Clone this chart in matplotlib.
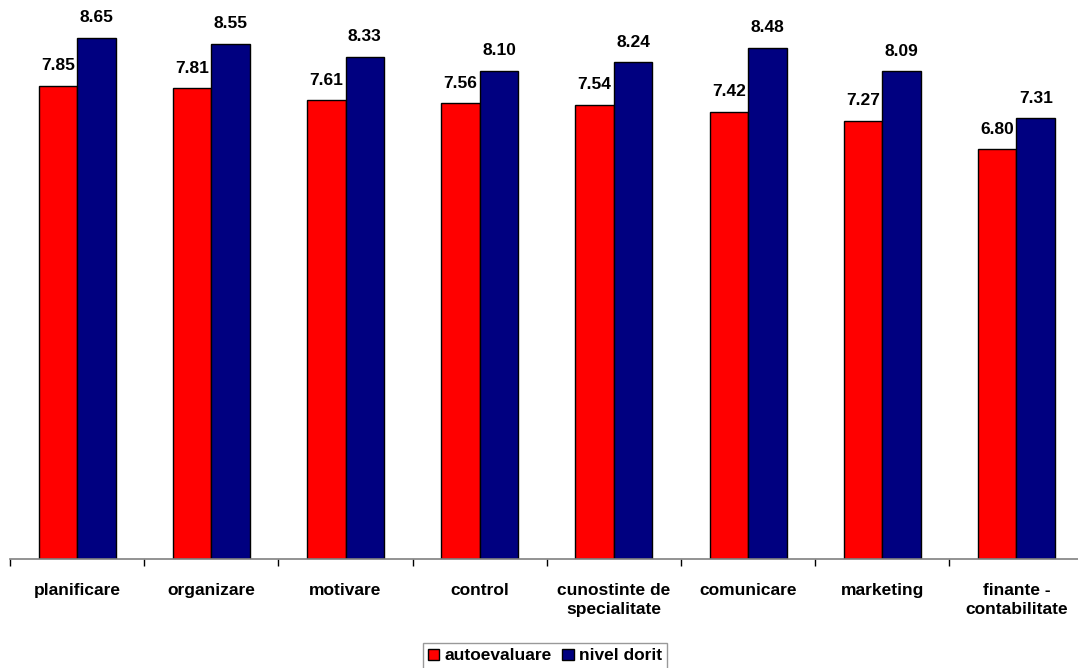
import numpy as np
import matplotlib.pyplot as plt

plt.rcParams['font.family'] = ['Liberation Sans', 'DejaVu Sans']
plt.rcParams['font.weight'] = 'bold'

categories = ['planificare', 'organizare', 'motivare', 'control',
              'cunostinte de\nspecialitate', 'comunicare', 'marketing',
              'finante -\ncontabilitate']
autoevaluare = [7.85, 7.81, 7.61, 7.56, 7.54, 7.42, 7.27, 6.80]
nivel_dorit = [8.65, 8.55, 8.33, 8.10, 8.24, 8.48, 8.09, 7.31]

fig = plt.figure(figsize=(10.78, 6.68), dpi=100)
ax = fig.add_axes([10 / 1078, 109 / 668, 1073.6 / 1078, 559 / 668])

x = np.arange(len(categories))
w = 0.287
b1 = ax.bar(x - w / 2, autoevaluare, w, color='#ff0000', edgecolor='black',
            linewidth=1, label='autoevaluare')
b2 = ax.bar(x + w / 2, nivel_dorit, w, color='#000080', edgecolor='black',
            linewidth=1, label='nivel dorit')

for bars, vals in [(b1, autoevaluare), (b2, nivel_dorit)]:
    for r, v in zip(bars, vals):
        ax.annotate(f'{v:.2f}', (r.get_x() + r.get_width() / 2, v),
                    xytext=(0, 9), textcoords='offset points',
                    ha='center', va='bottom', fontsize=12.5, fontweight='bold')

ax.set_xlim(-0.5, len(categories) - 0.5)
ax.set_ylim(0, 9.275)

for s in ['top', 'right', 'left']:
    ax.spines[s].set_visible(False)
ax.spines['bottom'].set_color('#808080')
ax.spines['bottom'].set_linewidth(1.2)
ax.set_yticks([])

ax.set_xticks(x)
ax.set_xticklabels(categories, fontsize=12.5, fontweight='bold', linespacing=1.4)
ax.tick_params(axis='x', which='major', length=0, pad=17)
ax.set_xticks(np.arange(len(categories) + 1) - 0.5, minor=True)
ax.tick_params(axis='x', which='minor', length=5, width=1, color='black')

leg = fig.legend(handles=[b1, b2], loc='lower center',
                 bbox_to_anchor=(545 / 1078, -0.014), ncol=2,
                 prop={'size': 12.5, 'weight': 'bold'}, frameon=True,
                 fancybox=False, edgecolor='#808080', handlelength=0.65,
                 handleheight=0.65, handletextpad=0.3, columnspacing=0.6,
                 borderpad=0.3)
leg.get_frame().set_linewidth(1)

fig.savefig('out.png', dpi=100)
